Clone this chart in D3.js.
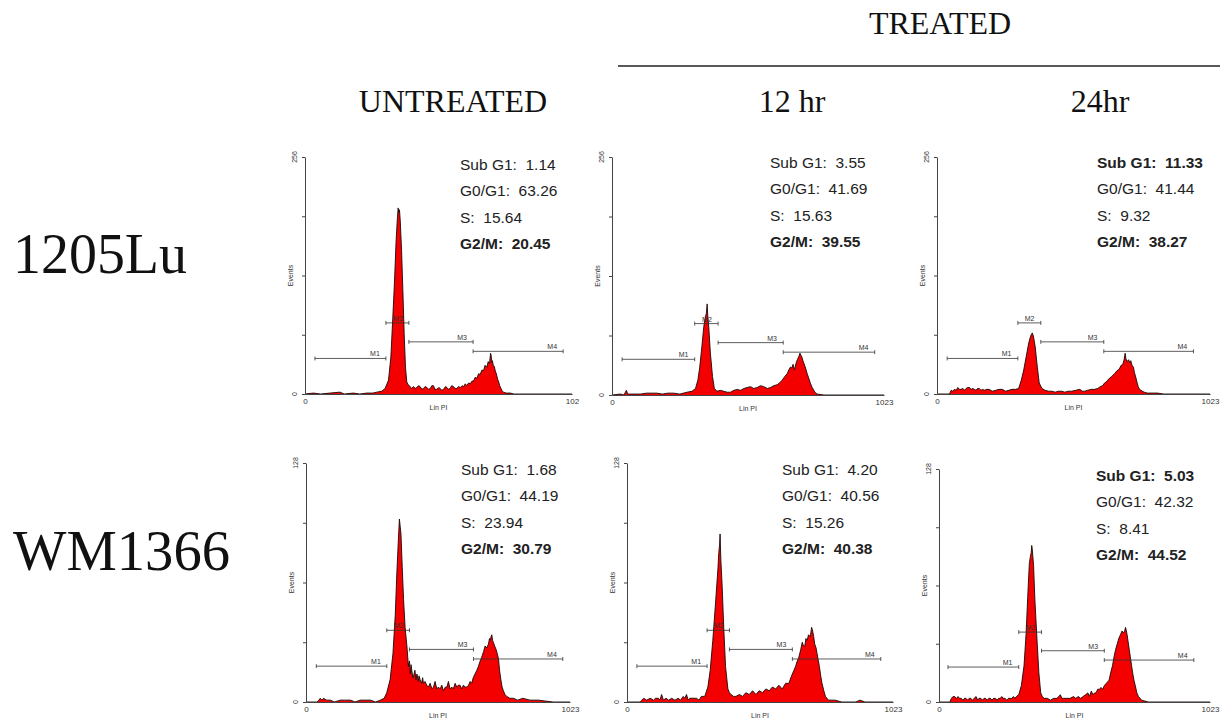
<!DOCTYPE html>
<html>
<head>
<meta charset="utf-8">
<script src="https://cdn.jsdelivr.net/npm/d3@7"></script>
<style>
  body { margin: 0; background: #fff; }
  svg { display: block; }
  .hdr { font-family: "Liberation Serif", "Times New Roman", serif; fill: #111; }
  .stat { font-family: "Liberation Sans", Arial, sans-serif; font-size: 15.5px; fill: #222; white-space: pre; }
  .tiny { font-family: "Liberation Sans", Arial, sans-serif; font-size: 7px; fill: #333; }
  .axis path, .axis line { stroke: #444; }
  .axis text { font-family: "Liberation Sans", Arial, sans-serif; font-size: 8px; fill: #333; }
</style>
</head>
<body>
<main></main>
<script>
var width = 1220;
var height = 720;

// ---- data ----
var rowLabels = ["1205Lu", "WM1366"];
var colLabels = ["UNTREATED", "12 hr", "24hr"];
var groupLabel = "TREATED";
var phaseNames = ["Sub G1", "G0/G1", "S", "G2/M"];
var yMaxByRow = [256, 128];
var xEndLabels = ["102", "1023", "1023", "1023", "1023", "1023"];

var phaseValues = [
  ["1.14", "63.26", "15.64", "20.45"],
  ["3.55", "41.69", "15.63", "39.55"],
  ["11.33", "41.44", "9.32", "38.27"],
  ["1.68", "44.19", "23.94", "30.79"],
  ["4.20", "40.56", "15.26", "40.38"],
  ["5.03", "42.32", "8.41", "44.52"]
];
var boldPhases = [[3], [3], [0, 3], [3], [3], [0, 3]];

var markerNames = ["M1", "M2", "M3", "M4"];
var markerLevels = [0.15, 0.30, 0.22, 0.18]; // share of the y max
var markerBounds = [
  [38, 310, 398, 644, 989],
  [38, 311, 399, 644, 988],
  [38, 303, 389, 625, 961],
  [40, 313, 401, 649, 995],
  [38, 308, 394, 636, 976],
  [34, 301, 387, 624, 962]
];

// histograms: [Lin PI channel, events]
var hist1205Un = [[0,0],[32,1],[60,0],[96,1],[134,2],[150,0],[185,1],[210,0],[237,1],[260,1],[275,2],[294,3],
  [307,6],[320,15],[329,40],[336,80],[343,122],[349,165],[354,190],[357,201],[359,196],[362,199],[365,187],
  [370,155],[375,112],[380,65],[385,29],[390,13],[395,10],[400,9],[408,6],[416,8],[422,6],[428,7],[435,9],
  [441,8],[448,5],[454,6],[460,8],[467,7],[474,5],[480,6],[486,9],[492,9],[498,5],[505,5],[512,7],[518,6],
  [524,4],[531,5],[538,8],[544,7],[550,5],[556,6],[562,9],[569,8],[575,6],[582,6],[588,8],[595,7],[602,9],
  [608,8],[614,11],[620,9],[627,12],[633,11],[640,14],[646,14],[652,18],[659,17],[665,22],[671,21],[678,26],
  [684,25],[690,31],[697,29],[702,35],[707,33],[711,44],[713,42],[716,34],[718,36],[722,30],[725,30],
  [729,25],[733,22],[738,16],[742,13],[746,9],[751,6],[756,3],[761,2],[770,1],[787,1],[800,0],[863,0],[1023,0]];

var hist1205_12 = [[0,0],[31,1],[45,0],[54,5],[59,1],[80,1],[107,1],[130,2],[169,2],[190,1],[210,2],[232,2],
  [255,1],[282,3],[301,4],[314,7],[323,16],[330,30],[338,52],[345,73],[351,84],[355,88],[358,98],[360,86],
  [364,73],[370,45],[378,20],[385,7],[395,4],[408,5],[420,4],[433,3],[446,3],[458,5],[471,6],[484,5],
  [496,7],[508,8],[521,9],[533,7],[546,8],[558,10],[571,9],[584,7],[596,8],[608,10],[621,11],[630,13],
  [640,16],[650,20],[659,23],[665,27],[671,30],[676,29],[681,33],[686,27],[692,34],[697,38],[702,41],
  [707,45],[710,43],[714,41],[718,37],[722,34],[728,29],[734,23],[740,18],[747,12],[753,8],[759,5],
  [766,2],[772,1],[797,0],[1023,0]];

var hist1205_24 = [[0,0],[47,0],[53,4],[59,3],[65,5],[72,4],[78,7],[84,5],[90,5],[97,6],[103,4],[109,6],
  [115,7],[121,7],[128,5],[134,6],[140,5],[146,4],[152,6],[158,6],[165,4],[171,5],[177,4],[186,5],
  [195,5],[207,3],[220,4],[232,5],[245,5],[257,3],[269,4],[281,5],[294,5],[306,6],[316,15],[325,26],
  [334,40],[343,54],[348,60],[353,64],[357,66],[361,63],[368,51],[376,29],[383,12],[393,6],[405,4],
  [418,3],[430,3],[443,2],[455,3],[467,3],[479,2],[492,3],[504,3],[520,4],[535,5],[545,3],[553,3],
  [565,4],[578,5],[590,5],[603,6],[612,8],[621,9],[628,12],[634,13],[640,15],[646,17],[655,19],[665,22],
  [674,25],[683,27],[690,31],[696,32],[701,37],[705,44],[708,38],[712,35],[718,37],[722,34],[726,36],
  [731,31],[736,29],[740,23],[745,18],[750,12],[754,8],[759,5],[764,4],[776,2],[788,1],[825,1],[850,0],[1023,0]];

var histWMUn = [[0,0],[43,0],[50,1],[55,2],[62,1],[68,2],[80,1],[94,1],[110,0],[133,1],[150,1],[172,1],
  [190,0],[210,1],[230,1],[249,1],[270,0],[288,1],[303,2],[313,5],[326,12],[337,26],[346,47],[352,69],
  [359,90],[362,98],[365,94],[368,90],[373,72],[378,55],[384,40],[391,30],[397,19],[401,22],[404,15],
  [407,20],[410,17],[414,13],[417,14],[422,17],[426,12],[430,15],[435,11],[438,14],[442,12],[448,10],
  [452,13],[455,10],[461,11],[468,9],[474,8],[481,10],[488,7],[494,8],[500,11],[507,7],[513,8],[520,7],
  [526,9],[533,6],[540,8],[546,8],[552,11],[558,7],[565,8],[571,7],[578,10],[584,8],[590,9],[597,9],
  [603,7],[610,9],[617,8],[623,8],[630,9],[636,11],[642,10],[648,13],[655,15],[662,17],[668,19],[675,22],
  [681,24],[688,27],[694,30],[700,29],[707,31],[711,34],[714,33],[717,35],[720,36],[723,33],[726,32],
  [731,30],[737,28],[741,26],[746,23],[750,17],[755,12],[760,8],[765,6],[771,4],[778,3],[790,2],
  [804,2],[820,1],[840,2],[868,1],[900,1],[958,0],[1023,0]];

var histWM_12 = [[0,0],[51,0],[57,1],[64,2],[76,1],[89,2],[102,1],[110,2],[121,2],[127,1],[133,4],[140,1],
  [150,2],[160,1],[172,2],[184,1],[197,2],[206,1],[216,3],[222,2],[229,4],[235,1],[241,2],[254,2],
  [267,2],[277,1],[286,3],[299,3],[311,8],[320,17],[330,33],[341,54],[350,72],[353,80],[356,84],
  [358,90],[361,76],[366,62],[372,40],[379,19],[388,7],[394,5],[400,4],[410,3],[419,3],[432,4],[445,3],
  [457,5],[470,4],[483,6],[496,4],[508,6],[521,5],[534,7],[547,6],[559,8],[572,7],[584,9],[597,7],
  [610,10],[623,10],[630,13],[636,15],[642,17],[648,19],[655,22],[661,24],[668,28],[674,32],[679,30],
  [684,30],[688,34],[693,33],[698,36],[705,35],[710,40],[714,38],[718,35],[722,31],[727,29],[731,26],
  [736,22],[740,19],[745,14],[750,10],[757,6],[763,3],[775,1],[800,1],[826,0],[880,0],[896,1],[915,0],[1023,0]];

var histWM_24 = [[0,0],[41,0],[47,2],[53,3],[59,3],[66,2],[72,3],[77,2],[84,2],[90,1],[96,2],[102,2],
  [108,1],[114,2],[120,2],[126,1],[133,2],[140,3],[146,1],[151,2],[158,2],[164,1],[170,2],[176,2],
  [182,1],[188,2],[194,2],[200,1],[206,2],[213,2],[219,1],[225,2],[231,2],[237,3],[243,2],[249,2],
  [256,1],[262,2],[268,2],[274,2],[281,3],[287,2],[292,3],[301,4],[311,9],[321,20],[329,38],[335,58],
  [341,76],[345,80],[348,82],[350,86],[352,84],[357,75],[362,56],[370,34],[377,16],[384,5],[390,3],
  [397,2],[409,2],[421,1],[433,2],[445,2],[452,3],[458,4],[464,2],[470,2],[482,2],[495,2],[508,3],
  [516,2],[526,3],[535,2],[544,3],[553,4],[562,5],[568,3],[575,6],[581,4],[587,5],[593,5],[599,7],
  [605,7],[612,8],[618,7],[624,9],[630,10],[636,11],[642,12],[648,16],[655,20],[661,25],[667,29],
  [673,32],[679,35],[685,37],[691,39],[696,38],[701,39],[704,41],[706,40],[710,37],[713,34],[718,29],
  [722,25],[727,20],[731,16],[736,12],[741,9],[747,5],[753,3],[765,1],[790,0],[1023,0]];

var histograms = [hist1205Un, hist1205_12, hist1205_24, histWMUn, histWM_12, histWM_24];

// ---- layout ----
var panels = [
  { x0: 305, x1: 572, yTop: 157, yBase: 394, tx: 460, ty: 170 },
  { x0: 612, x1: 884, yTop: 157, yBase: 395, tx: 770, ty: 168 },
  { x0: 937, x1: 1210, yTop: 157, yBase: 394, tx: 1097, ty: 168 },
  { x0: 306, x1: 570, yTop: 463, yBase: 702, tx: 461, ty: 475 },
  { x0: 627, x1: 893, yTop: 463, yBase: 702, tx: 782, ty: 475 },
  { x0: 939, x1: 1210, yTop: 469, yBase: 702, tx: 1096, ty: 481 }
];

var svg = d3.select("main").append("svg")
    .attr("width", width)
    .attr("height", height);

// headers
svg.append("text").attr("class", "hdr")
    .attr("x", 940).attr("y", 34)
    .attr("text-anchor", "middle")
    .style("font-size", "32px")
    .text(groupLabel);

svg.append("line")
    .attr("x1", 618).attr("x2", 1220)
    .attr("y1", 66).attr("y2", 66)
    .style("stroke", "#222")
    .style("stroke-width", 1.5);

var colX = [453, 792, 1100];
svg.selectAll(".colhdr")
    .data(colLabels)
  .enter().append("text")
    .attr("class", "hdr colhdr")
    .attr("x", function(d, i) { return colX[i]; })
    .attr("y", 112)
    .attr("text-anchor", "middle")
    .style("font-size", "32px")
    .text(function(d) { return d; });

var rowY = [273, 570];
var rowW = [174, 217];
svg.selectAll(".rowhdr")
    .data(rowLabels)
  .enter().append("text")
    .attr("class", "hdr rowhdr")
    .attr("x", 13)
    .attr("y", function(d, i) { return rowY[i]; })
    .attr("textLength", function(d, i) { return rowW[i]; })
    .attr("lengthAdjust", "spacingAndGlyphs")
    .style("font-size", "58px")
    .text(function(d) { return d; });

histograms.forEach(function(hist, i) {
  drawPanel(i, hist);
});

function drawPanel(i, hist) {
  var p = panels[i];
  var yMax = yMaxByRow[Math.floor(i / 3)];
  var g = svg.append("g");

  var x = d3.scaleLinear().domain([0, 1023]).range([p.x0, p.x1]);
  var y = d3.scaleLinear().domain([0, yMax]).range([p.yBase, p.yTop]);

  var area = d3.area()
      .x(function(d) { return x(d[0]); })
      .y0(y(0))
      .y1(function(d) { return y(d[1]); });

  var line = d3.line()
      .x(function(d) { return x(d[0]); })
      .y(function(d) { return y(d[1]); });

  g.append("path")
      .datum(hist)
      .attr("d", area)
      .style("fill", "#f40000");

  g.append("path")
      .datum(hist)
      .attr("d", line)
      .style("fill", "none")
      .style("stroke", "#1a0808")
      .style("stroke-width", 0.9);

  // axes
  g.append("g")
      .attr("class", "axis")
      .attr("transform", "translate(" + p.x0 + ",0)")
      .call(d3.axisLeft(y)
        .tickValues([0, yMax / 4, yMax / 2, yMax * 3 / 4, yMax])
        .tickSize(3)
        .tickSizeOuter(0)
        .tickFormat(""));

  g.append("g")
      .attr("class", "axis")
      .attr("transform", "translate(0," + p.yBase + ")")
      .call(d3.axisBottom(x)
        .tickValues([0, 1023])
        .tickSize(0)
        .tickSizeOuter(0)
        .tickPadding(4)
        .tickFormat(function(d, j) { return j ? xEndLabels[i] : "0"; }));

  // rotated y labels
  [0, yMax].forEach(function(v) {
    g.append("text").attr("class", "tiny")
        .attr("transform", "translate(" + (p.x0 - 8) + "," + y(v) + ") rotate(-90)")
        .attr("text-anchor", "middle")
        .text(v);
  });

  g.append("text").attr("class", "tiny")
      .attr("transform", "translate(" + (p.x0 - 12) + "," + ((p.yTop + p.yBase) / 2) + ") rotate(-90)")
      .attr("text-anchor", "middle")
      .text("Events");

  g.append("text").attr("class", "tiny")
      .attr("x", (p.x0 + p.x1) / 2)
      .attr("y", p.yBase + 16)
      .attr("text-anchor", "middle")
      .text("Lin PI");

  // markers
  var b = markerBounds[i];
  markerNames.forEach(function(name, k) {
    var my = y(markerLevels[k] * yMax);
    var xa = x(b[k]), xb = x(b[k + 1]);
    var m = g.append("g").style("stroke", "#333").style("stroke-width", 0.8);
    m.append("line").attr("x1", xa).attr("x2", xb).attr("y1", my).attr("y2", my);
    m.append("line").attr("x1", xa).attr("x2", xa).attr("y1", my - 2).attr("y2", my + 2);
    m.append("line").attr("x1", xb).attr("x2", xb).attr("y1", my - 2).attr("y2", my + 2);
    g.append("text").attr("class", "tiny")
        .attr("x", x(b[k + 1] - 42))
        .attr("y", my - 2)
        .attr("text-anchor", "middle")
        .text(name);
  });

  // phase percentages
  phaseNames.forEach(function(name, k) {
    g.append("text").attr("class", "stat")
        .attr("x", p.tx)
        .attr("y", p.ty + k * 26.3)
        .style("font-weight", boldPhases[i].indexOf(k) >= 0 ? "bold" : "normal")
        .text(name + ":  " + phaseValues[i][k]);
  });
}
</script>
</body>
</html>
